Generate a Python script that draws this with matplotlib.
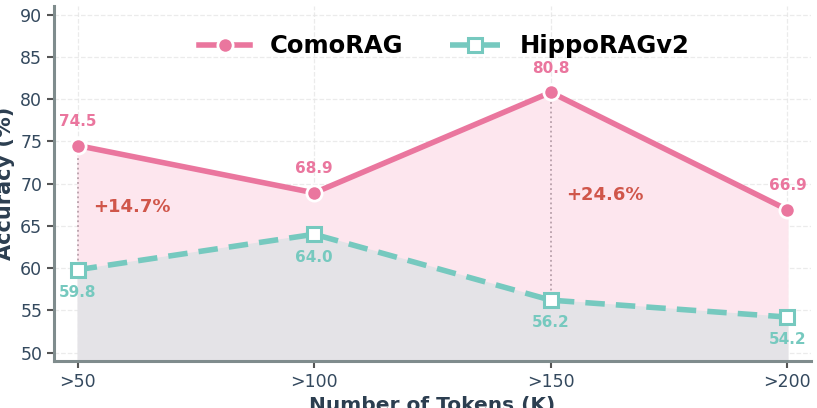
import matplotlib.pyplot as plt
import numpy as np

# Data
token_bins = ['>50', '>100', '>150', '>200']
comorag = [74.5, 68.9, 80.8, 66.9]
hipporag = [59.8, 64.0, 56.2, 54.2]
gap_idx = [0, 2]
gap_labels = ['+14.7%', '+24.6%']
gap_label_y = [67.2, 68.6]

PINK = '#ea769e'
TEAL = '#76c9bf'
DARK = '#2c3e50'
RED = '#d0564a'

fig = plt.figure(figsize=(8.17, 4.08), dpi=100)
ax = fig.add_axes([0.0661, 0.1152, 0.9266, 0.8698])

x = np.arange(len(token_bins))
ymin = 49

# Shaded areas
ax.fill_between(x, hipporag, comorag, color='#fde6ee', zorder=1)
ax.fill_between(x, ymin, hipporag, color='#e4e3e7', zorder=1)

ax.plot(x, comorag, color=PINK, lw=4, marker='o', markersize=11,
        markerfacecolor=PINK, markeredgecolor='white', markeredgewidth=2,
        label='ComoRAG', zorder=4)
ax.plot(x, hipporag, color=TEAL, lw=4, ls=(0, (3.5, 2)), marker='s', markersize=10,
        markerfacecolor='white', markeredgecolor=TEAL, markeredgewidth=2.2,
        label='HippoRAGv2', zorder=4)

# Value labels
for xi, v in zip(x, comorag):
    ax.annotate(f'{v:.1f}', (xi, v), xytext=(0, 12), textcoords='offset points',
                ha='center', va='bottom', fontsize=11, fontweight='bold', color=PINK)
for xi, v in zip(x, hipporag):
    ax.annotate(f'{v:.1f}', (xi, v), xytext=(0, -11), textcoords='offset points',
                ha='center', va='top', fontsize=11, fontweight='bold', color=TEAL)

# Gap markers
for i, lab, ly in zip(gap_idx, gap_labels, gap_label_y):
    ax.vlines(x[i], hipporag[i], comorag[i], colors='#b8a0aa', linestyles=':', lw=1.3, zorder=2)
    ax.text(x[i] + 0.23, ly, lab, ha='center', va='center', fontsize=13,
            fontweight='bold', color=RED, zorder=5)

ax.set_xlim(-0.1, 3.1)
ax.set_ylim(ymin, 91)
ax.set_yticks(range(50, 91, 5))
ax.set_xticks(x)
ax.set_xticklabels(token_bins)
ax.tick_params(labelsize=12.5, labelcolor='#34495e', color='#555555', width=1.5, length=5)

ax.set_xlabel('Number of Tokens (K)', fontsize=14.5, fontweight='bold', color=DARK, labelpad=4)
ax.set_ylabel('Accuracy (%)', fontsize=15, fontweight='bold', color=DARK, labelpad=4)

ax.grid(True, ls='--', color='#e6e6e6', lw=0.9, alpha=0.8)
ax.set_axisbelow(True)
for s in ['top', 'right']:
    ax.spines[s].set_visible(False)
for s in ['left', 'bottom']:
    ax.spines[s].set_color('#7f8c8d')
    ax.spines[s].set_linewidth(2.2)

ax.legend(loc='upper center', bbox_to_anchor=(0.516, 0.982), ncol=2, frameon=False,
          prop={'size': 17.5, 'weight': 'bold'}, handlelength=2.1, columnspacing=1.9)

fig.savefig('out.png', dpi=100)
